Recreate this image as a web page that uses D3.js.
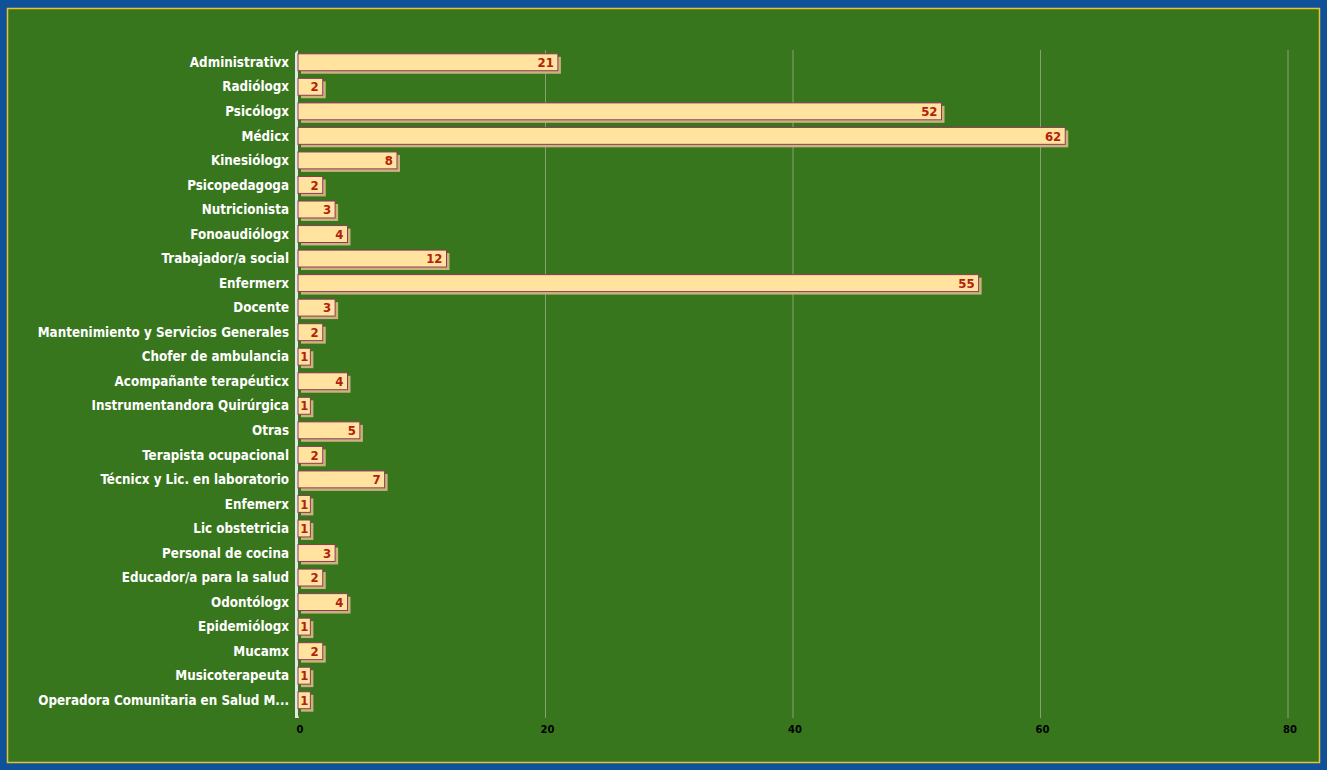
<!DOCTYPE html>
<html>
<head>
<meta charset="utf-8">
<script src="https://cdn.jsdelivr.net/npm/d3@7"></script>
<style>
  body { margin: 0; background: #0f5299; }
  svg { display: block; }
</style>
</head>
<body>
<div id="chart"></div>
<script>
// categories and counts, top to bottom
var categories = ["Administrativx", "Radiólogx", "Psicólogx", "Médicx", "Kinesiólogx",
    "Psicopedagoga", "Nutricionista", "Fonoaudiólogx", "Trabajador/a social", "Enfermerx",
    "Docente", "Mantenimiento y Servicios Generales", "Chofer de ambulancia",
    "Acompañante terapéuticx", "Instrumentandora Quirúrgica", "Otras", "Terapista ocupacional",
    "Técnicx y Lic. en laboratorio", "Enfemerx", "Lic obstetricia", "Personal de cocina",
    "Educador/a para la salud", "Odontólogx", "Epidemiólogx", "Mucamx", "Musicoterapeuta",
    "Operadora Comunitaria en Salud M..."];
var counts = [21, 2, 52, 62, 8, 2, 3, 4, 12, 55, 3, 2, 1, 4, 1, 5, 2, 7, 1, 1, 3, 2, 4, 1, 2, 1, 1];
var xTicks = [0, 20, 40, 60, 80];

var W = 1327, H = 770;
var margin = {top: 50, right: 39, bottom: 52, left: 298};
var plotBottom = H - margin.bottom;

var svg = d3.select("#chart").append("svg")
    .attr("width", W)
    .attr("height", H);

// background panel
svg.append("rect").attr("width", W).attr("height", H).attr("fill", "#0f5299");
svg.append("rect")
    .attr("x", 7.5).attr("y", 8.5)
    .attr("width", 1312).attr("height", 754)
    .attr("fill", "#38761d")
    .attr("stroke", "#e8c33a")
    .attr("stroke-width", 1.5);

var x = d3.scaleLinear()
    .domain([0, 80])
    .range([margin.left, W - margin.right]);

var y = d3.scaleBand()
    .domain(categories)
    .range([margin.top, margin.top + 662.5])
    .paddingInner(0.31)
    .paddingOuter(0.155);

// grid lines
svg.append("g")
    .selectAll("line")
    .data(xTicks.slice(1))
    .enter().append("line")
    .attr("x1", d => x(d)).attr("x2", d => x(d))
    .attr("y1", margin.top).attr("y2", plotBottom)
    .attr("stroke", "#83a373")
    .attr("stroke-width", 1);

// x tick labels
svg.append("g")
    .selectAll("text")
    .data(xTicks)
    .enter().append("text")
    .attr("x", d => x(d) + 2)
    .attr("y", plotBottom + 15)
    .attr("text-anchor", "middle")
    .style("font-family", "'DejaVu Sans'")
    .style("font-weight", "bold")
    .style("font-size", "10px")
    .attr("fill", "#000")
    .text(d => d);

// left axis bar (3d look)
svg.append("path")
    .attr("d", "M" + (margin.left - 3) + "," + (margin.top + 3) +
        " L" + (margin.left) + "," + margin.top +
        " L" + (margin.left) + "," + (plotBottom - 3) +
        " L" + (margin.left + 1) + "," + plotBottom +
        " L" + (margin.left - 3) + "," + plotBottom + "Z")
    .attr("fill", "#e4e8e4");

// category labels
svg.append("g")
    .selectAll("text")
    .data(categories)
    .enter().append("text")
    .attr("x", margin.left - 9)
    .attr("y", d => y(d) + y.bandwidth() / 2)
    .attr("dy", "0.35em")
    .attr("text-anchor", "end")
    .style("font-family", "'DejaVu Sans Condensed'")
    .style("font-weight", "bold")
    .style("font-size", "13.3px")
    .attr("fill", "#ffffff")
    .text(d => d);

var bars = svg.append("g")
    .selectAll("g")
    .data(categories.map((c, i) => ({name: c, value: counts[i]})))
    .enter().append("g");

// shadow
bars.append("rect")
    .attr("x", x(0) + 3)
    .attr("y", d => y(d.name) + 3)
    .attr("width", d => x(d.value) - x(0))
    .attr("height", y.bandwidth())
    .attr("fill", "#c9b47c");

bars.append("rect")
    .attr("x", x(0))
    .attr("y", d => y(d.name))
    .attr("width", d => x(d.value) - x(0))
    .attr("height", y.bandwidth())
    .attr("fill", "#ffe39f")
    .attr("stroke", "#8b3a5a")
    .attr("stroke-width", 1);

bars.append("text")
    .attr("x", d => x(d.value) - (d.value < 2 ? 6 : 4))
    .attr("y", d => y(d.name) + y.bandwidth() / 2)
    .attr("dy", "0.36em")
    .attr("text-anchor", d => d.value < 2 ? "middle" : "end")
    .style("font-family", "'DejaVu Sans Condensed'")
    .style("font-weight", "bold")
    .style("font-size", "13px")
    .attr("fill", "#b3200e")
    .text(d => d.value);
</script>
</body>
</html>
